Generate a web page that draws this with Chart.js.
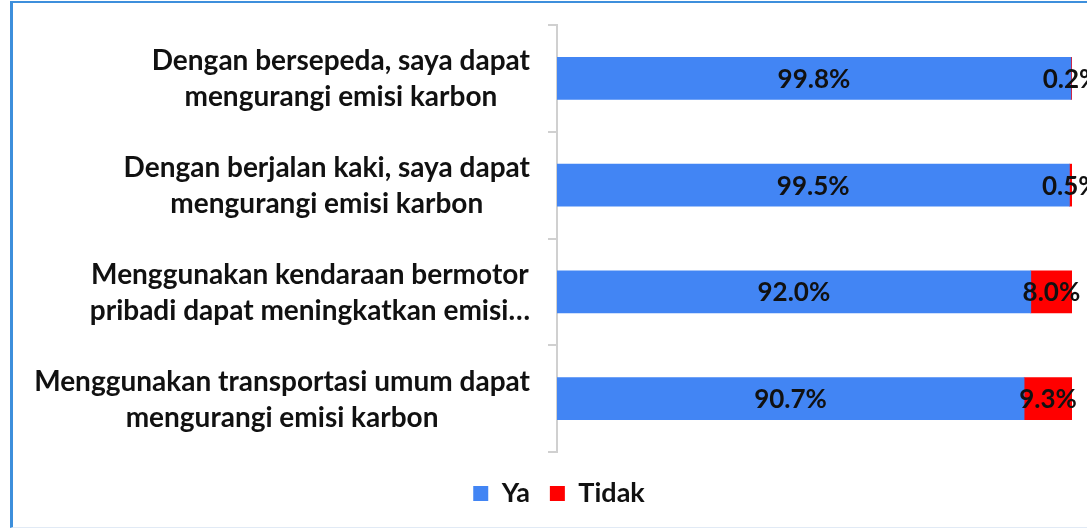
<!DOCTYPE html>
<html>
<head>
<meta charset="utf-8">
<script src="https://cdn.jsdelivr.net/npm/chart.js@4.4.0/dist/chart.umd.min.js"></script>
<style>
  body { margin: 0; background: #fff; }
  #frame {
    position: absolute; left: 10px; top: 1px; width: 1100px; height: 524px;
    border-left: 3px solid #3d8fdc; border-top: 2px solid #3d8fdc;
    border-bottom: 1px solid #e1eaf5;
  }
  #wrap { position: absolute; left: 0; top: 0; width: 1087px; height: 529px; }
</style>
</head>
<body>
<div id="frame"></div>
<div id="wrap"><canvas id="chart"></canvas></div>
<script>
"use strict";

// data
let questions = [
  ["Dengan bersepeda, saya dapat", "mengurangi emisi karbon"],
  ["Dengan berjalan kaki, saya dapat", "mengurangi emisi karbon"],
  ["Menggunakan kendaraan bermotor", "pribadi dapat meningkatkan emisi\u2026"],
  ["Menggunakan transportasi umum dapat", "mengurangi emisi karbon"]
];
let yaValues = [99.8, 99.5, 92.0, 90.7];
let tidakValues = [0.2, 0.5, 8.0, 9.3];

const FONT = "Lato, 'Open Sans', sans-serif";

// draw y labels: block right-aligned to the axis, lines centered in the block
let categoryLabels = {
  id: "categoryLabels",
  afterDraw(chart) {
    let ctx = chart.ctx;
    let yScale = chart.scales.y;
    let right = yScale.right - 27;
    ctx.save();
    ctx.font = "bold 28px " + FONT;
    ctx.fillStyle = "#111";
    ctx.textAlign = "center";
    ctx.textBaseline = "middle";
    questions.forEach((lines, i) => {
      let maxW = Math.max(...lines.map(l => ctx.measureText(l).width));
      let cx = right - maxW / 2;
      let cy = yScale.getPixelForValue(i);
      let lh = 36;
      lines.forEach((l, j) => {
        ctx.fillText(l, cx, cy + 1 + (j - (lines.length - 1) / 2) * lh);
      });
    });
    ctx.restore();
  }
};

// value labels centered on each segment
let valueLabels = {
  id: "valueLabels",
  afterDatasetsDraw(chart) {
    let ctx = chart.ctx;
    ctx.save();
    ctx.font = "bold 26px " + FONT;
    ctx.fillStyle = "#111";
    ctx.textAlign = "center";
    ctx.textBaseline = "middle";
    chart.data.datasets.forEach((ds, di) => {
      let meta = chart.getDatasetMeta(di);
      meta.data.forEach((bar, i) => {
        let p = bar.getCenterPoint();
        ctx.fillText(ds.data[i].toFixed(1) + "%", p.x, p.y + 1);
      });
    });
    ctx.restore();
  }
};

let chart = new Chart(document.querySelector("#chart"), {
  type: "bar",
  data: {
    labels: questions,
    datasets: [{
      label: "Ya",
      data: yaValues,
      backgroundColor: "#4285f4",
      borderWidth: 0,
      barThickness: 42
    }, {
      label: "Tidak",
      data: tidakValues,
      backgroundColor: "#ff0000",
      borderWidth: 0,
      barThickness: 42
    }]
  },
  options: {
    indexAxis: "y",
    responsive: true,
    maintainAspectRatio: false,
    animation: false,
    layout: { padding: { top: 25, right: 15, bottom: 12, left: 46 } },
    scales: {
      x: {
        stacked: true,
        min: 0,
        max: 100,
        ticks: { display: false },
        grid: { display: false },
        border: { display: false },
        afterFit: scale => { scale.height = 8; }
      },
      y: {
        stacked: true,
        ticks: { display: false },
        grid: { drawOnChartArea: false, tickLength: 9, color: "#d0d0d0", lineWidth: 2 },
        border: { color: "#d0d0d0", width: 2 },
        afterFit: scale => { scale.width = 511; }
      }
    },
    plugins: {
      legend: {
        position: "bottom",
        labels: {
          boxWidth: 15,
          boxHeight: 15,
          padding: 20,
          color: "#111",
          font: { family: FONT, size: 27, weight: "bold" }
        }
      },
      tooltip: { enabled: false }
    }
  },
  plugins: [categoryLabels, valueLabels]
});
</script>
</body>
</html>
